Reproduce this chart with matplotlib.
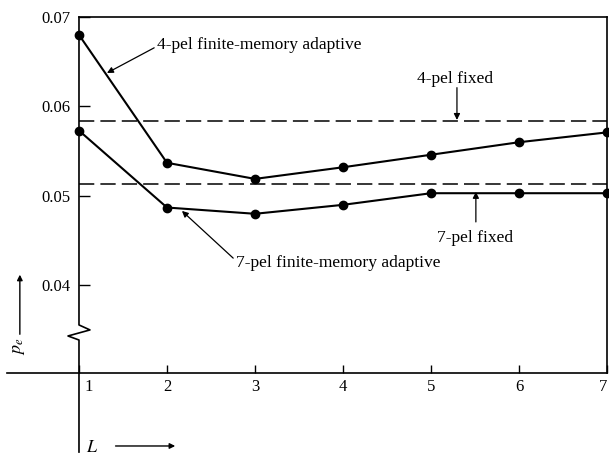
import numpy as np
import matplotlib
matplotlib.use("Agg")
import matplotlib.pyplot as plt
from matplotlib.lines import Line2D
from matplotlib.transforms import ScaledTranslation

plt.rcParams['font.family'] = ['Liberation Serif', 'DejaVu Serif']
plt.rcParams['mathtext.fontset'] = 'stix'

# data
L = [1, 2, 3, 4, 5, 6, 7]
pe_4pel_adaptive = [0.0680, 0.0537, 0.0519, 0.0532, 0.0546, 0.0560, 0.0571]
pe_7pel_adaptive = [0.0573, 0.0487, 0.0480, 0.0490, 0.0503, 0.0503, 0.0503]
pe_4pel_fixed = 0.0584
pe_7pel_fixed = 0.0513
yticks = [0.04, 0.05, 0.06, 0.07]
ytick_labels = ['0.04', '0.05', '0.06', '0.07']

fig = plt.figure(figsize=(6.09, 4.57), dpi=100)
ax = fig.add_axes([0.1297, 0.1838, 0.867, 0.779])

ax.plot(L, pe_4pel_adaptive, color='black', lw=1.5, marker='o', ms=6, clip_on=False, zorder=3)
ax.plot(L, pe_7pel_adaptive, color='black', lw=1.5, marker='o', ms=6, clip_on=False, zorder=3)
ax.axhline(pe_4pel_fixed, color='black', lw=1.1, dashes=(10, 4))
ax.axhline(pe_7pel_fixed, color='black', lw=1.1, dashes=(10, 4))

ax.set_xlim(1, 7)
ax.set_ylim(0.0302, 0.07)
ax.set_xticks(L)
ax.set_xticklabels([str(v) for v in L])
ax.set_yticks(yticks)
ax.set_yticklabels(ytick_labels)
ax.tick_params(axis='x', direction='in', length=6, width=1, labelsize=12, pad=4)
ax.tick_params(axis='y', direction='in', length=8, width=1, labelsize=12, pad=6)
# "1" sits just right of the vertical axis, "7" just left of the border
xlbls = ax.get_xticklabels()
xlbls[0].set_transform(xlbls[0].get_transform() + ScaledTranslation(7 / 72, 0, fig.dpi_scale_trans))
xlbls[-1].set_transform(xlbls[-1].get_transform() + ScaledTranslation(-3 / 72, 0, fig.dpi_scale_trans))

for s in ['left', 'bottom']:
    ax.spines[s].set_visible(False)
ax.spines['top'].set_linewidth(1.2)
ax.spines['right'].set_linewidth(1.2)

# left axis with break mark, running below the x axis
ax.add_line(Line2D([0, 0, 0.0208, -0.0208, 0, 0],
                   [1, 0.135, 0.121, 0.104, 0.0927, -0.222],
                   transform=ax.transAxes, color='black', lw=1.2, clip_on=False))
# x axis, extended to the left
ax.add_line(Line2D([-0.136, 1.0], [0, 0], transform=ax.transAxes,
                   color='black', lw=1.2, clip_on=False))

# axis labels with arrows
ax.text(-0.1155, 0.075, r'$p_e$', transform=ax.transAxes, rotation=90,
        ha='center', va='center', fontsize=13)
ax.annotate('', xy=(-0.112, 0.284), xytext=(-0.112, 0.101), xycoords='axes fraction',
            arrowprops=dict(arrowstyle='-|>', color='black', lw=1, mutation_scale=8),
            annotation_clip=False)
ax.text(0.025, -0.208, r'$L$', transform=ax.transAxes, ha='center', va='center', fontsize=13)
ax.annotate('', xy=(0.1875, -0.205), xytext=(0.064, -0.205), xycoords='axes fraction',
            arrowprops=dict(arrowstyle='-|>', color='black', lw=1, mutation_scale=8),
            annotation_clip=False)

arrow = dict(arrowstyle='-|>', color='black', lw=0.9, mutation_scale=9, shrinkA=0, shrinkB=0)
ax.annotate('4-pel finite-memory adaptive', xy=(1.318, 0.06374), xytext=(1.886, 0.0669),
            ha='left', va='center', fontsize=12.6,
            arrowprops=dict(arrow, relpos=(0, 0.4)))
ax.annotate('7-pel finite-memory adaptive', xy=(2.17, 0.04832), xytext=(2.784, 0.04252),
            ha='left', va='center', fontsize=12.6,
            arrowprops=dict(arrow, relpos=(-0.01, 0.75)))
ax.text(5.27, 0.0631, '4-pel fixed', ha='center', va='center', fontsize=12.6)
ax.annotate('', xy=(5.295, 0.05849), xytext=(5.295, 0.0621), arrowprops=arrow)
ax.text(5.5, 0.04533, '7-pel fixed', ha='center', va='center', fontsize=12.6)
ax.annotate('', xy=(5.51, 0.05045), xytext=(5.51, 0.04709), arrowprops=arrow)

fig.savefig('out.png', dpi=100)
